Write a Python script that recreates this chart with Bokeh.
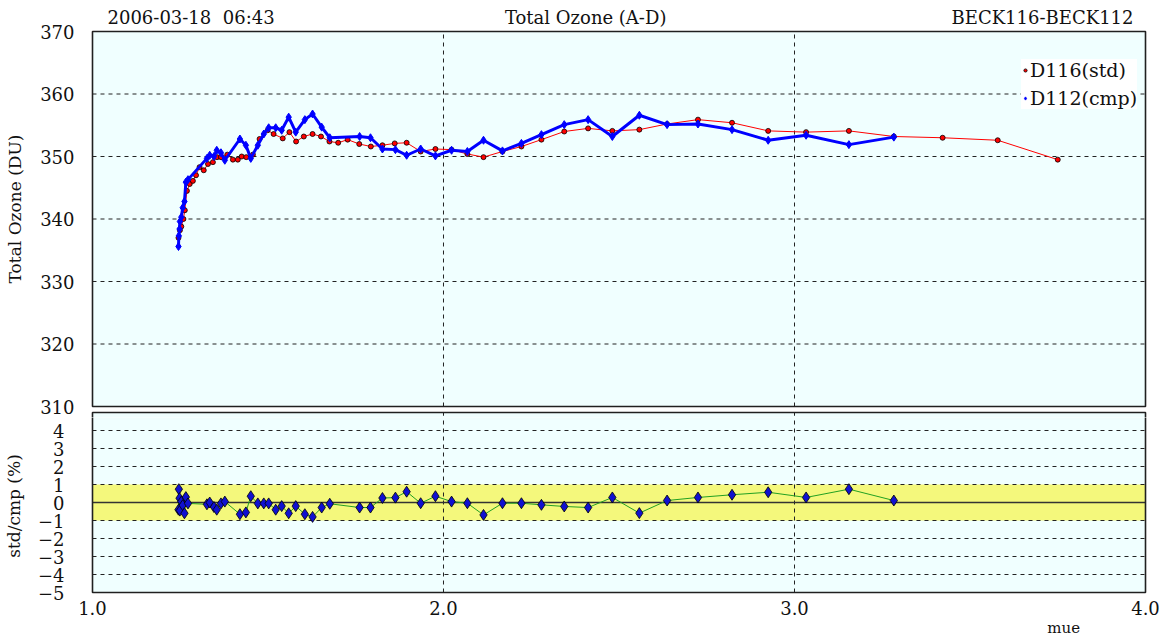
from bokeh.plotting import figure
from bokeh.layouts import column
from bokeh.models import (FixedTicker, Legend, LegendItem, BoxAnnotation,
                          Range1d, CustomJSTickFormatter)
from bokeh.core.properties import value
from bokeh.embed import file_html
from bokeh.resources import INLINE

# ---- data: air mass (mue) and total ozone (DU) ----
std_mue = [1.245, 1.249, 1.253, 1.259, 1.263, 1.269, 1.277, 1.286, 1.295, 1.305,
           1.317, 1.329, 1.343, 1.355, 1.366, 1.384, 1.400, 1.414, 1.425, 1.438,
           1.457, 1.476, 1.499, 1.516, 1.542, 1.561, 1.580, 1.602, 1.627, 1.651,
           1.675, 1.700, 1.727, 1.760, 1.793, 1.826, 1.861, 1.895, 1.935, 1.977,
           2.023, 2.068, 2.114, 2.168, 2.222, 2.279, 2.344, 2.412, 2.481, 2.558,
           2.637, 2.725, 2.822, 2.925, 3.033, 3.155, 3.283, 3.422, 3.579, 3.750]
std_du = [337.0, 338.2, 338.8, 340.0, 341.4, 344.5, 345.6, 346.1, 347.0, 348.3,
          347.8, 348.8, 349.1, 349.9, 349.9, 350.3, 349.5, 349.5, 350.0, 349.9,
          350.3, 352.8, 354.2, 353.6, 352.9, 353.9, 352.4, 353.2, 353.6, 353.2,
          352.4, 352.2, 352.7, 352.0, 351.6, 351.8, 352.1, 352.2, 350.8, 351.2,
          351.1, 350.4, 349.9, 350.8, 351.6, 352.7, 354.0, 354.5, 354.1, 354.3,
          355.2, 355.9, 355.4, 354.1, 353.9, 354.1, 353.2, 353.0, 352.6, 349.5]

cmp_mue = [1.245, 1.246, 1.248, 1.249, 1.253, 1.257, 1.262, 1.266, 1.272,
           1.326, 1.334, 1.346, 1.354, 1.366, 1.377, 1.420, 1.437, 1.451, 1.471,
           1.488, 1.502, 1.522, 1.539, 1.559, 1.579, 1.605, 1.627, 1.653, 1.676,
           1.761, 1.792, 1.826, 1.863,
           1.895, 1.935, 1.977, 2.023, 2.068, 2.114, 2.168, 2.222, 2.279, 2.344,
           2.412, 2.481, 2.558, 2.637, 2.725, 2.822, 2.925, 3.033, 3.155, 3.283]
cmp_du = [335.6, 337.3, 338.4, 339.6, 340.3, 341.8, 342.8, 345.9, 346.3,
          349.7, 350.2, 350.0, 351.0, 350.6, 349.4, 352.8, 351.8, 349.7, 351.8,
          353.6, 354.6, 354.6, 354.2, 356.3, 353.9, 355.9, 356.8, 354.7, 353.0,
          353.2, 353.0, 351.2, 351.1,
          350.2, 351.2, 350.1, 351.0, 350.8, 352.6, 350.9, 352.1, 353.5, 355.1,
          355.9, 353.2, 356.6, 355.1, 355.2, 354.3, 352.6, 353.4, 351.9, 353.1]

# relative difference std/cmp in percent, at the cmp air masses
diff_pct = [-0.40, 0.74, 0.24, -0.45, 0.05, -0.15, -0.60, 0.30, -0.05,
            -0.10, 0.00, -0.25, -0.40, -0.05, 0.05, -0.65, -0.55, 0.35, -0.05,
            -0.05, -0.05, -0.40, -0.20, -0.60, -0.20, -0.65, -0.80, -0.28, -0.07,
            -0.28, -0.28, 0.25, 0.27,
            0.60, -0.04, 0.35, 0.05, -0.04, -0.69, -0.04, -0.04, -0.13, -0.22,
            -0.28, 0.28, -0.59, 0.11, 0.28, 0.43, 0.57, 0.28, 0.74, 0.11]

x_ticks = [1.0, 2.0, 3.0, 4.0]
ozone_ticks = [310, 320, 330, 340, 350, 360, 370]
diff_ticks = [-5, -4, -3, -2, -1, 0, 1, 2, 3, 4]
v_grid = [2.0, 3.0]
ozone_grid = [320, 330, 340, 350, 360]
diff_grid = [-4, -3, -2, -1, 1, 2, 3, 4]

# the gap between date and time is two spaces wide (second one non-breaking)
header_left = "2006-03-18 \u00a006:43"
header_center = "Total Ozone (A-D)"
header_right = "BECK116-BECK112"

FONT = "DejaVu Serif"
TXT = "#111111"
BG = "#F0FFFF"
FRAME = "#202020"
GRID = "#222222"
W = 1167

X0, X1 = 1.0, 4.0
PX_PER_MUE = 351.5
PAD = 2                      # px of free frame around each plot box
OZ0, OZ1 = 310, 370
PX_PER_DU = 6.25             # upper box: 375 px for 60 DU
D0, D1 = -5, 5
PX_PER_PCT = 18.0            # lower box: 180 px for 10 %

x_rng = Range1d(X0 - PAD / PX_PER_MUE, X1 + PAD / PX_PER_MUE)
LEFT, RIGHT = 90 - PAD, 22 - PAD


def style_axes(p):
    p.border_fill_color = "white"
    p.background_fill_color = "white"
    p.outline_line_color = None
    p.grid.visible = False
    p.toolbar.logo = None
    for ax in p.axis:
        ax.axis_line_color = None
        ax.major_tick_line_color = None
        ax.minor_tick_line_color = None
        ax.major_label_text_font = FONT
        ax.major_label_text_font_size = "18px"
        ax.major_label_text_color = TXT
        ax.axis_label_text_font = FONT
        ax.axis_label_text_font_size = "17px"
        ax.axis_label_text_font_style = "normal"
        ax.axis_label_text_color = TXT


def dashed_h(p, ys, x0, x1):
    p.segment(x0=[x0] * len(ys), y0=ys, x1=[x1] * len(ys), y1=ys,
              line_color=GRID, line_dash="4 4", line_width=1)


def dashed_v(p, xs, y0, y1):
    p.segment(x0=xs, y0=[y0] * len(xs), x1=xs, y1=[y1] * len(xs),
              line_color=GRID, line_dash="4 4", line_width=1)


def box(p, bottom, top, fill=None, edge=False, level="annotation"):
    p.add_layout(BoxAnnotation(
        left=X0, right=X1, bottom=bottom, top=top,
        fill_color=fill if fill else "white", fill_alpha=1 if fill else 0,
        line_color=FRAME if edge else None, line_alpha=1, line_width=1.6,
        level=level))


# ---- upper panel: total ozone (frame also holds the header band above and
#      the top rim of the lower box below) ----
HEAD_PX, GAP_PX, RIM_PX = 31, 6, 5
oz_lo = OZ0 - (GAP_PX + RIM_PX) / PX_PER_DU
oz_hi = OZ1 + HEAD_PX / PX_PER_DU
rim_top = OZ0 - GAP_PX / PX_PER_DU

top = figure(width=W, height=HEAD_PX + 375 + GAP_PX + RIM_PX,
             output_backend="svg", toolbar_location=None, x_range=x_rng,
             y_range=Range1d(oz_lo, oz_hi), min_border_left=LEFT,
             min_border_right=RIGHT, min_border_top=0, min_border_bottom=0)
top.xaxis.visible = False
top.yaxis.ticker = FixedTicker(ticks=ozone_ticks)
top.yaxis.axis_label = "Total Ozone (DU)"
top.yaxis.major_label_standoff = 10
top.yaxis.axis_label_standoff = 12
style_axes(top)

box(top, OZ0, OZ1, fill=BG, level="image")
box(top, oz_lo - 5, rim_top, fill=BG, level="image")
dashed_h(top, ozone_grid, X0, X1)
dashed_v(top, v_grid, OZ0, OZ1)
dashed_v(top, v_grid, oz_lo - 1, rim_top)

top.line(std_mue, std_du, line_color="red", line_width=1)
std_marks = top.scatter(std_mue, std_du, marker="circle", size=5,
                        fill_color="red", line_color="black", line_width=0.8)
top.line(cmp_mue, cmp_du, line_color="blue", line_width=3)
cmp_marks = top.scatter(cmp_mue, cmp_du, marker="diamond", size=8,
                        fill_color="blue", line_color="blue")

# box borders on top of everything
box(top, OZ0, OZ1, edge=True)
box(top, oz_lo - 5, rim_top, edge=True)

legend = Legend(items=[LegendItem(label="D116(std)", renderers=[std_marks]),
                       LegendItem(label="D112(cmp)", renderers=[cmp_marks])],
                location=(931, 308))
legend.label_text_font = FONT
legend.label_text_font_size = "19px"
legend.label_text_color = TXT
legend.glyph_width = 8
legend.glyph_height = 10
legend.label_standoff = 1
legend.spacing = 6
legend.padding = 2
legend.margin = 0
legend.background_fill_color = "white"
legend.background_fill_alpha = 1
legend.border_line_color = None
top.add_layout(legend)

# header line, 14 px above the upper box
head_y = OZ1 + 14 / PX_PER_DU
for txt, xpos, xoff, align in [(header_left, X0, 15, "left"),
                               (header_center, 2.405, 0, "center"),
                               (header_right, X1, -12, "right")]:
    top.text(x=[xpos], y=[head_y], text=[txt], x_offset=xoff,
             text_align=align, text_baseline="middle",
             text_font=value(FONT), text_font_size="18px", text_color=TXT)

# ---- lower panel: relative difference ----
low_px = 180 - RIM_PX
d_hi = D0 + low_px / PX_PER_PCT
d_lo = D0 - PAD / PX_PER_PCT
BOT_AXIS = 24
bot = figure(width=W, height=low_px + PAD + BOT_AXIS, output_backend="svg",
             toolbar_location=None, x_range=x_rng, y_range=Range1d(d_lo, d_hi),
             min_border_left=LEFT, min_border_right=RIGHT, min_border_top=0,
             min_border_bottom=BOT_AXIS)
bot.xaxis.ticker = FixedTicker(ticks=x_ticks)
bot.xaxis.formatter = CustomJSTickFormatter(code="return tick.toFixed(1);")
bot.xaxis.major_label_standoff = 0
bot.yaxis.ticker = FixedTicker(ticks=diff_ticks)
bot.yaxis.axis_label = "std/cmp (%)"
bot.yaxis.major_label_standoff = 20
bot.yaxis.axis_label_standoff = 11
style_axes(bot)

box(bot, D0, D1 + 1, fill=BG, level="image")
bot.add_layout(BoxAnnotation(left=X0, right=X1, bottom=-1, top=1,
                             fill_color="#F4F87C", fill_alpha=1,
                             line_color=None, level="image"))
dashed_h(bot, diff_grid, X0, X1)
dashed_v(bot, v_grid, D0, D1 + 1)
bot.segment(x0=[X0], y0=[0], x1=[X1], y1=[0], line_color="#333333",
            line_width=1.5)

bot.line(cmp_mue, diff_pct, line_color="#22A022", line_width=1)
bot.scatter(cmp_mue, diff_pct, marker="diamond", size=11, fill_color="#1010D0",
            line_color="black", line_width=0.8)
box(bot, D0, D1 + 1, edge=True)

# ---- x-axis caption strip ----
FOOT = 637 - (HEAD_PX + 375 + GAP_PX + RIM_PX) - (low_px + PAD + BOT_AXIS)
foot = figure(width=W, height=FOOT, output_backend="svg",
              toolbar_location=None, x_range=x_rng, y_range=Range1d(0, FOOT),
              min_border_left=LEFT, min_border_right=RIGHT, min_border_top=0,
              min_border_bottom=0)
foot.axis.visible = False
foot.grid.visible = False
foot.outline_line_color = None
foot.background_fill_color = "white"
foot.border_fill_color = "white"
foot.text(x=[3.767], y=[FOOT / 2], text=["mue"], text_align="center",
          text_baseline="middle", text_font=value(FONT),
          text_font_size="15px", text_color=TXT)

layout = column(top, bot, foot, spacing=0)
open("out.html", "w").write(file_html(layout, INLINE))
